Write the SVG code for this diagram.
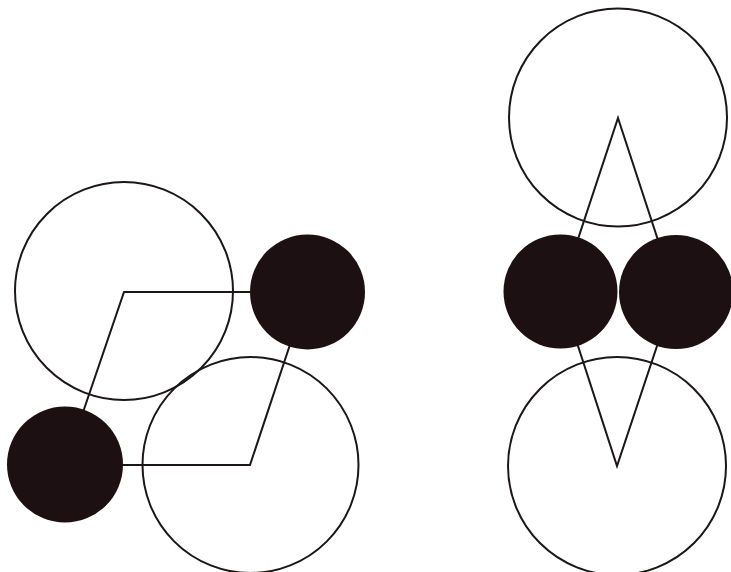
<svg xmlns="http://www.w3.org/2000/svg" width="731" height="572" viewBox="0 0 731 572">
<style>
.open{fill:none;stroke:#1c1616;stroke-width:2}
.solid{fill:#1d1012;stroke:none}
.link{fill:none;stroke:#1c1616;stroke-width:2;stroke-linejoin:miter}
</style>
<rect width="731" height="572" fill="#ffffff"/>
<g id="connectors">
<polygon class="link" points="124,292 307.5,292 250,465 65,465"/>
<polygon class="link" points="618,118 675,292 617,466 560.5,292"/>
</g>
<g id="left-open-top"><circle class="open" cx="124" cy="291" r="109"/></g>
<g id="left-open-bottom"><circle class="open" cx="250.5" cy="465" r="108"/></g>
<g id="left-solid-right"><circle class="solid" cx="307.5" cy="292" r="57.5"/></g>
<g id="left-solid-left"><circle class="solid" cx="65" cy="464.5" r="58"/></g>
<g id="right-open-top"><circle class="open" cx="618" cy="117.5" r="109"/></g>
<g id="right-open-bottom"><circle class="open" cx="617" cy="466" r="109"/></g>
<g id="right-solid-left"><circle class="solid" cx="560.5" cy="291.5" r="57"/></g>
<g id="right-solid-right"><circle class="solid" cx="676" cy="292" r="57"/></g>
</svg>
